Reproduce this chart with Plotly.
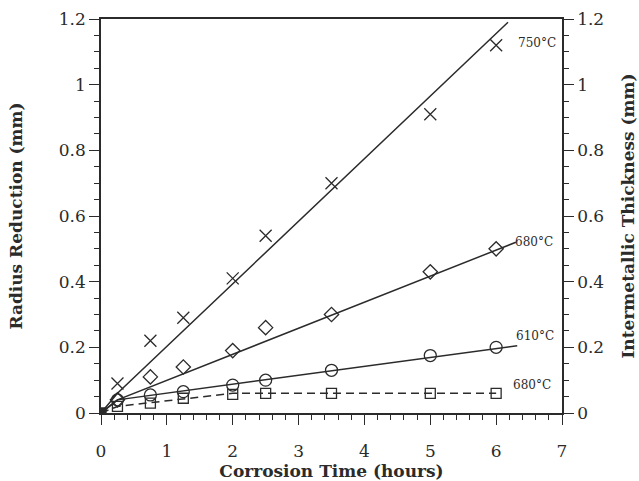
import plotly.graph_objects as go

# ---- data ----
hours = [0.25, 0.75, 1.25, 2, 2.5, 3.5, 5, 6]
r750 = [0.09, 0.22, 0.29, 0.41, 0.54, 0.70, 0.91, 1.12]
r680 = [0.04, 0.11, 0.14, 0.19, 0.26, 0.30, 0.43, 0.50]
r610 = [0.04, 0.055, 0.065, 0.085, 0.10, 0.13, 0.175, 0.20]
t680 = [0.02, 0.03, 0.045, 0.057, 0.06, 0.06, 0.06, 0.06]

# fitted lines (start at origin, through common early point, to end)
fit750_x = [0, 0.25, 6.18]
fit750_y = [0, 0.06, 1.19]
fit680_x = [0, 0.25, 6.3]
fit680_y = [0, 0.04, 0.52]
fit610_x = [0, 0.25, 6.32]
fit610_y = [0, 0.04, 0.205]
fitT_x = [0, 0.25, 2, 6]
fitT_y = [0, 0.02, 0.06, 0.06]

origin_x = [0]
origin_y = [0]

labels = ["750°C", "680°C", "610°C", "680°C"]
label_x = [6.62, 6.57, 6.59, 6.54]
label_y = [1.128, 0.522, 0.235, 0.085]

ink = "#2b2b2b"
serif = "DejaVu Serif"

fig = go.Figure()

def line(x, y, dash="solid", yaxis="y"):
    fig.add_trace(go.Scatter(x=x, y=y, mode="lines", yaxis=yaxis,
                             line=dict(color=ink, width=1.5, dash=dash),
                             hoverinfo="skip", showlegend=False))

def pts(x, y, symbol, size, yaxis="y"):
    fig.add_trace(go.Scatter(x=x, y=y, mode="markers", yaxis=yaxis,
                             marker=dict(symbol=symbol, size=size, color=ink,
                                         line=dict(color=ink, width=1.3)),
                             showlegend=False))

line(fit750_x, fit750_y)
line(fit680_x, fit680_y)
line(fit610_x, fit610_y)
line(fitT_x, fitT_y, dash="8px,5px", yaxis="y2")

pts(hours, r750, "x-thin-open", 12)
pts(hours, r680, "diamond-open", 11)
pts(hours, r610, "circle-open", 12)
pts(hours, t680, "square-open", 10, yaxis="y2")
pts(origin_x, origin_y, "square", 10)

for t, x, y in zip(labels, label_x, label_y):
    fig.add_annotation(x=x, y=y, text=t, showarrow=False, xanchor="center",
                       yanchor="middle", font=dict(family=serif, size=12, color=ink))

axis_common = dict(showline=True, linecolor=ink, linewidth=1.5, ticks="outside",
                   ticklen=10, tickwidth=1.3, tickcolor=ink, showgrid=False,
                   zeroline=False, automargin=False,
                   tickfont=dict(family=serif, size=17, color=ink))

fig.update_layout(
    width=639, height=481,
    margin=dict(l=101, r=77, t=19, b=68),
    paper_bgcolor="white", plot_bgcolor="white",
    xaxis=dict(range=[0, 7], dtick=1, mirror=True, ticklabelstandoff=12,
               minor=dict(dtick=0.2, ticks="outside", ticklen=5, tickcolor=ink, tickwidth=1),
               title=dict(text="<b>Corrosion Time (hours)</b>", standoff=0,
                          font=dict(family=serif, size=17, color=ink)),
               **axis_common),
    yaxis=dict(range=[0, 1.2], dtick=0.2, tickformat="~g",
               minor=dict(dtick=0.05, ticks="outside", ticklen=5, tickcolor=ink, tickwidth=1),
               title=dict(text="<b>Radius Reduction (mm)</b>", standoff=32,
                          font=dict(family=serif, size=17, color=ink)),
               **axis_common),
    yaxis2=dict(range=[0, 1.2], dtick=0.2, overlaying="y", side="right", tickformat="~g",
                minor=dict(dtick=0.05, ticks="outside", ticklen=5, tickcolor=ink, tickwidth=1),
                title=dict(text="<b>Intermetallic Thickness (mm)</b>", standoff=19,
                           font=dict(family=serif, size=17, color=ink)),
                **axis_common),
)

fig.write_html("out.html", config={"displayModeBar": False},
               post_script="document.body.style.margin='0';")
